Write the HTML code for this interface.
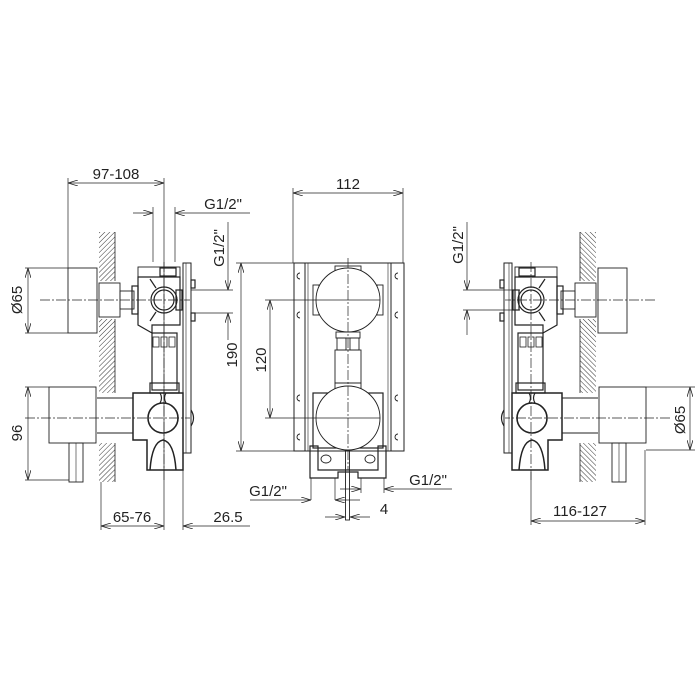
<!DOCTYPE html>
<html><head><meta charset="utf-8"><style>
html,body{margin:0;padding:0;background:#fff;}
svg{display:block}
text{font-family:"Liberation Sans",sans-serif;font-size:15px;fill:#222}
</style></head><body>
<svg width="700" height="700" viewBox="0 0 700 700" xmlns="http://www.w3.org/2000/svg">
<defs>
<pattern id="h" width="3.5" height="3.5" patternUnits="userSpaceOnUse" patternTransform="rotate(45)">
<line x1="0" y1="0" x2="0" y2="3.5" stroke="#333" stroke-width="1"/>
</pattern>
<marker id="a" markerWidth="10" markerHeight="6" refX="10" refY="3" orient="auto-start-reverse" markerUnits="userSpaceOnUse">
<path d="M0,0 L10,3 L0,6" fill="none" stroke="#222" stroke-width="0.8"/>
</marker>
<g id="asm" fill="none" stroke="#222" stroke-width="1.2">
 <rect x="99" y="232" width="16" height="49" fill="url(#h)" stroke="none"/>
 <rect x="99" y="319" width="16" height="74" fill="url(#h)" stroke="none"/>
 <rect x="99" y="443" width="16" height="39" fill="url(#h)" stroke="none"/>
 <line x1="115" y1="232" x2="115" y2="281" stroke-width="0.8"/>
 <line x1="115" y1="319" x2="115" y2="393" stroke-width="0.8"/>
 <line x1="115" y1="443" x2="115" y2="482" stroke-width="0.8"/>
 <rect x="68" y="268" width="29" height="65" stroke-width="0.9"/>
 <rect x="99" y="283" width="21" height="34" stroke-width="0.9"/>
 <rect x="120" y="291" width="14" height="18" stroke-width="0.9"/>
 <rect x="132" y="286" width="6" height="28"/>
 <rect x="138" y="267" width="42" height="10" stroke-width="0.9"/>
 <path d="M138,277 L180,277 L180,325 L152,325 L152,333 L138,325 Z"/>
 <circle cx="164" cy="300" r="13"/>
 <circle cx="164" cy="300" r="10"/>
 <rect x="176" y="290" width="6" height="20"/>
 <line x1="150" y1="279" x2="156" y2="288"/>
 <line x1="150" y1="321" x2="156" y2="312"/>
 <rect x="160" y="268" width="16" height="8"/>
 <rect x="152" y="333" width="25" height="57"/>
 <rect x="153" y="337" width="6" height="10" stroke-width="0.8"/>
 <rect x="161" y="337" width="6" height="10" stroke-width="0.8"/>
 <rect x="169" y="337" width="6" height="10" stroke-width="0.8"/>
 <rect x="150" y="383" width="29" height="10"/>
 <path d="M133,393 L183,393 L183,470 L147,470 L147,440 L133,440 Z" stroke-width="1.5"/>
 <circle cx="163" cy="418" r="15" stroke-width="1.6"/>
 <path d="M160,393 Q163,398 160,403 M166,393 Q163,398 166,403"/>
 <path d="M150,470 Q152,442 163,440 Q174,442 176,470" stroke-width="1.5"/>
 <rect x="183" y="263" width="8" height="190" stroke-width="1"/>
 <line x1="186" y1="263" x2="186" y2="453" stroke-width="0.6"/>
 <rect x="191" y="280" width="4" height="8"/><rect x="191" y="313" width="4" height="8"/>
 <path d="M191,410 Q196,418 191,426"/>
 <rect x="49" y="387" width="47" height="56" stroke-width="0.9"/>
 <rect x="69" y="443" width="14" height="39" stroke-width="0.9"/>
 <line x1="76" y1="443" x2="76" y2="482" stroke-width="0.6"/>
 <line x1="97" y1="398" x2="133" y2="398" stroke-width="0.9"/>
 <line x1="97" y1="433" x2="133" y2="433" stroke-width="0.9"/>
 <g stroke-width="0.7" stroke-dasharray="10,2,2,2">
  <line x1="40" y1="300" x2="190" y2="300"/>
  <line x1="25" y1="418" x2="190" y2="418"/>
  <line x1="164" y1="262" x2="164" y2="480"/>
 </g>
</g>
</defs>
<g stroke="#222" stroke-width="0.7" fill="none">
<use href="#asm"/>
<use href="#asm" transform="translate(695,0) scale(-1,1)"/>

<line x1="68" y1="178" x2="68" y2="268"/>
<line x1="164" y1="178" x2="164" y2="530"/>
<line x1="68" y1="183" x2="164" y2="183" marker-start="url(#a)" marker-end="url(#a)"/>
<line x1="153" y1="207" x2="153" y2="262"/>
<line x1="175" y1="207" x2="175" y2="262"/>
<line x1="133" y1="213" x2="153" y2="213" marker-end="url(#a)"/>
<line x1="250" y1="213" x2="175" y2="213" marker-end="url(#a)"/>
<line x1="25" y1="268" x2="68" y2="268"/><line x1="25" y1="333" x2="68" y2="333"/>
<line x1="28" y1="268" x2="28" y2="333" marker-start="url(#a)" marker-end="url(#a)"/>
<line x1="25" y1="387" x2="49" y2="387"/><line x1="25" y1="480" x2="69" y2="480"/>
<line x1="28" y1="387" x2="28" y2="480" marker-start="url(#a)" marker-end="url(#a)"/>
<line x1="191" y1="290" x2="233" y2="290"/><line x1="191" y1="313" x2="233" y2="313"/>
<line x1="228" y1="222" x2="228" y2="290" marker-end="url(#a)"/>
<line x1="228" y1="340" x2="228" y2="313" marker-end="url(#a)"/>
<line x1="101" y1="482" x2="101" y2="530"/>
<line x1="183" y1="470" x2="183" y2="530"/>
<line x1="101" y1="526" x2="164" y2="526" marker-start="url(#a)" marker-end="url(#a)"/>
<line x1="250" y1="526" x2="183" y2="526" marker-end="url(#a)"/>

<g stroke-width="1">
<rect x="294" y="263" width="110" height="188"/>
<line x1="305" y1="263" x2="305" y2="451"/>
<line x1="391" y1="263" x2="391" y2="451"/>
<line x1="308" y1="263" x2="308" y2="451" stroke-width="0.6"/>
<line x1="388" y1="263" x2="388" y2="451" stroke-width="0.6"/>
</g>
<g stroke-width="0.9">
<path d="M300,273 a3,3 0 1,0 0,6 M300,312 a3,3 0 1,0 0,6 M300,395 a3,3 0 1,0 0,6 M300,434 a3,3 0 1,0 0,6"/>
<path d="M398,273 a3,3 0 1,0 0,6 M398,312 a3,3 0 1,0 0,6 M398,395 a3,3 0 1,0 0,6 M398,434 a3,3 0 1,0 0,6"/>
<rect x="335" y="266" width="26" height="8"/>
<rect x="313" y="285" width="6" height="30"/><rect x="377" y="285" width="6" height="30"/>
<circle cx="348" cy="300" r="32" fill="#fff"/>
<rect x="336" y="332" width="24" height="6"/>
<rect x="337" y="338" width="9" height="12"/><rect x="350" y="338" width="9" height="12"/>
<rect x="335" y="350" width="26" height="33"/>
<rect x="335" y="383" width="26" height="8"/>
<rect x="313" y="393" width="70" height="55" stroke-width="1.2"/>
<circle cx="348" cy="418" r="32" fill="#fff"/>
<path d="M310,478 L310,446 L318,446 L318,470 L378,470 L378,446 L386,446 L386,478 L358,478 L358,472 L338,472 L338,478 Z" stroke-width="1.2"/>
<ellipse cx="326" cy="459" rx="5" ry="4"/><ellipse cx="370" cy="459" rx="5" ry="4"/>
<rect x="345.5" y="450" width="4" height="70"/>
</g>
<g stroke-dasharray="10,2,2,2">
<line x1="348" y1="258" x2="348" y2="470"/>
</g>
<line x1="265" y1="300" x2="380" y2="300"/>
<line x1="265" y1="418" x2="380" y2="418"/>
<line x1="270" y1="300" x2="270" y2="418" marker-start="url(#a)" marker-end="url(#a)"/>
<line x1="236" y1="263" x2="294" y2="263"/><line x1="236" y1="451" x2="294" y2="451"/>
<line x1="241" y1="263" x2="241" y2="451" marker-start="url(#a)" marker-end="url(#a)"/>
<line x1="293" y1="188" x2="293" y2="263"/><line x1="403" y1="188" x2="403" y2="263"/>
<line x1="293" y1="193" x2="403" y2="193" marker-start="url(#a)" marker-end="url(#a)"/>
<line x1="311" y1="478" x2="311" y2="500"/><line x1="335" y1="478" x2="335" y2="500"/>
<line x1="250" y1="500" x2="311" y2="500" marker-end="url(#a)"/>
<line x1="360" y1="500" x2="335" y2="500" marker-end="url(#a)"/>
<line x1="361" y1="478" x2="361" y2="493"/><line x1="384" y1="478" x2="384" y2="493"/>
<line x1="340" y1="489" x2="361" y2="489" marker-end="url(#a)"/>
<line x1="452" y1="489" x2="384" y2="489" marker-end="url(#a)"/>
<line x1="325" y1="517" x2="345" y2="517" marker-end="url(#a)"/>
<line x1="370" y1="517" x2="350" y2="517" marker-end="url(#a)"/>

<line x1="463" y1="290" x2="520" y2="290"/><line x1="463" y1="310" x2="520" y2="310"/>
<line x1="467" y1="222" x2="467" y2="290" marker-end="url(#a)"/>
<line x1="467" y1="335" x2="467" y2="310" marker-end="url(#a)"/>
<line x1="646" y1="387" x2="695" y2="387"/><line x1="646" y1="450" x2="695" y2="450"/>
<line x1="690" y1="387" x2="690" y2="450" marker-start="url(#a)" marker-end="url(#a)"/>
<line x1="531" y1="472" x2="531" y2="525"/><line x1="645" y1="450" x2="645" y2="525"/>
<line x1="531" y1="521" x2="645" y2="521" marker-start="url(#a)" marker-end="url(#a)"/>
</g>

<g>
<text x="116" y="179" text-anchor="middle">97-108</text>
<text x="223" y="209" text-anchor="middle">G1/2"</text>
<text transform="translate(224,248) rotate(-90)" text-anchor="middle">G1/2"</text>
<text transform="translate(22,300) rotate(-90)" text-anchor="middle">Ø65</text>
<text transform="translate(22,433) rotate(-90)" text-anchor="middle">96</text>
<text transform="translate(237,355) rotate(-90)" text-anchor="middle">190</text>
<text transform="translate(266,360) rotate(-90)" text-anchor="middle">120</text>
<text x="348" y="189" text-anchor="middle">112</text>
<text x="132" y="522" text-anchor="middle">65-76</text>
<text x="228" y="522" text-anchor="middle">26.5</text>
<text x="268" y="496" text-anchor="middle">G1/2"</text>
<text x="428" y="485" text-anchor="middle">G1/2"</text>
<text x="384" y="514" text-anchor="middle">4</text>
<text transform="translate(463,245) rotate(-90)" text-anchor="middle">G1/2"</text>
<text transform="translate(685,420) rotate(-90)" text-anchor="middle">Ø65</text>
<text x="580" y="516" text-anchor="middle">116-127</text>
</g>
</svg>
</body></html>
